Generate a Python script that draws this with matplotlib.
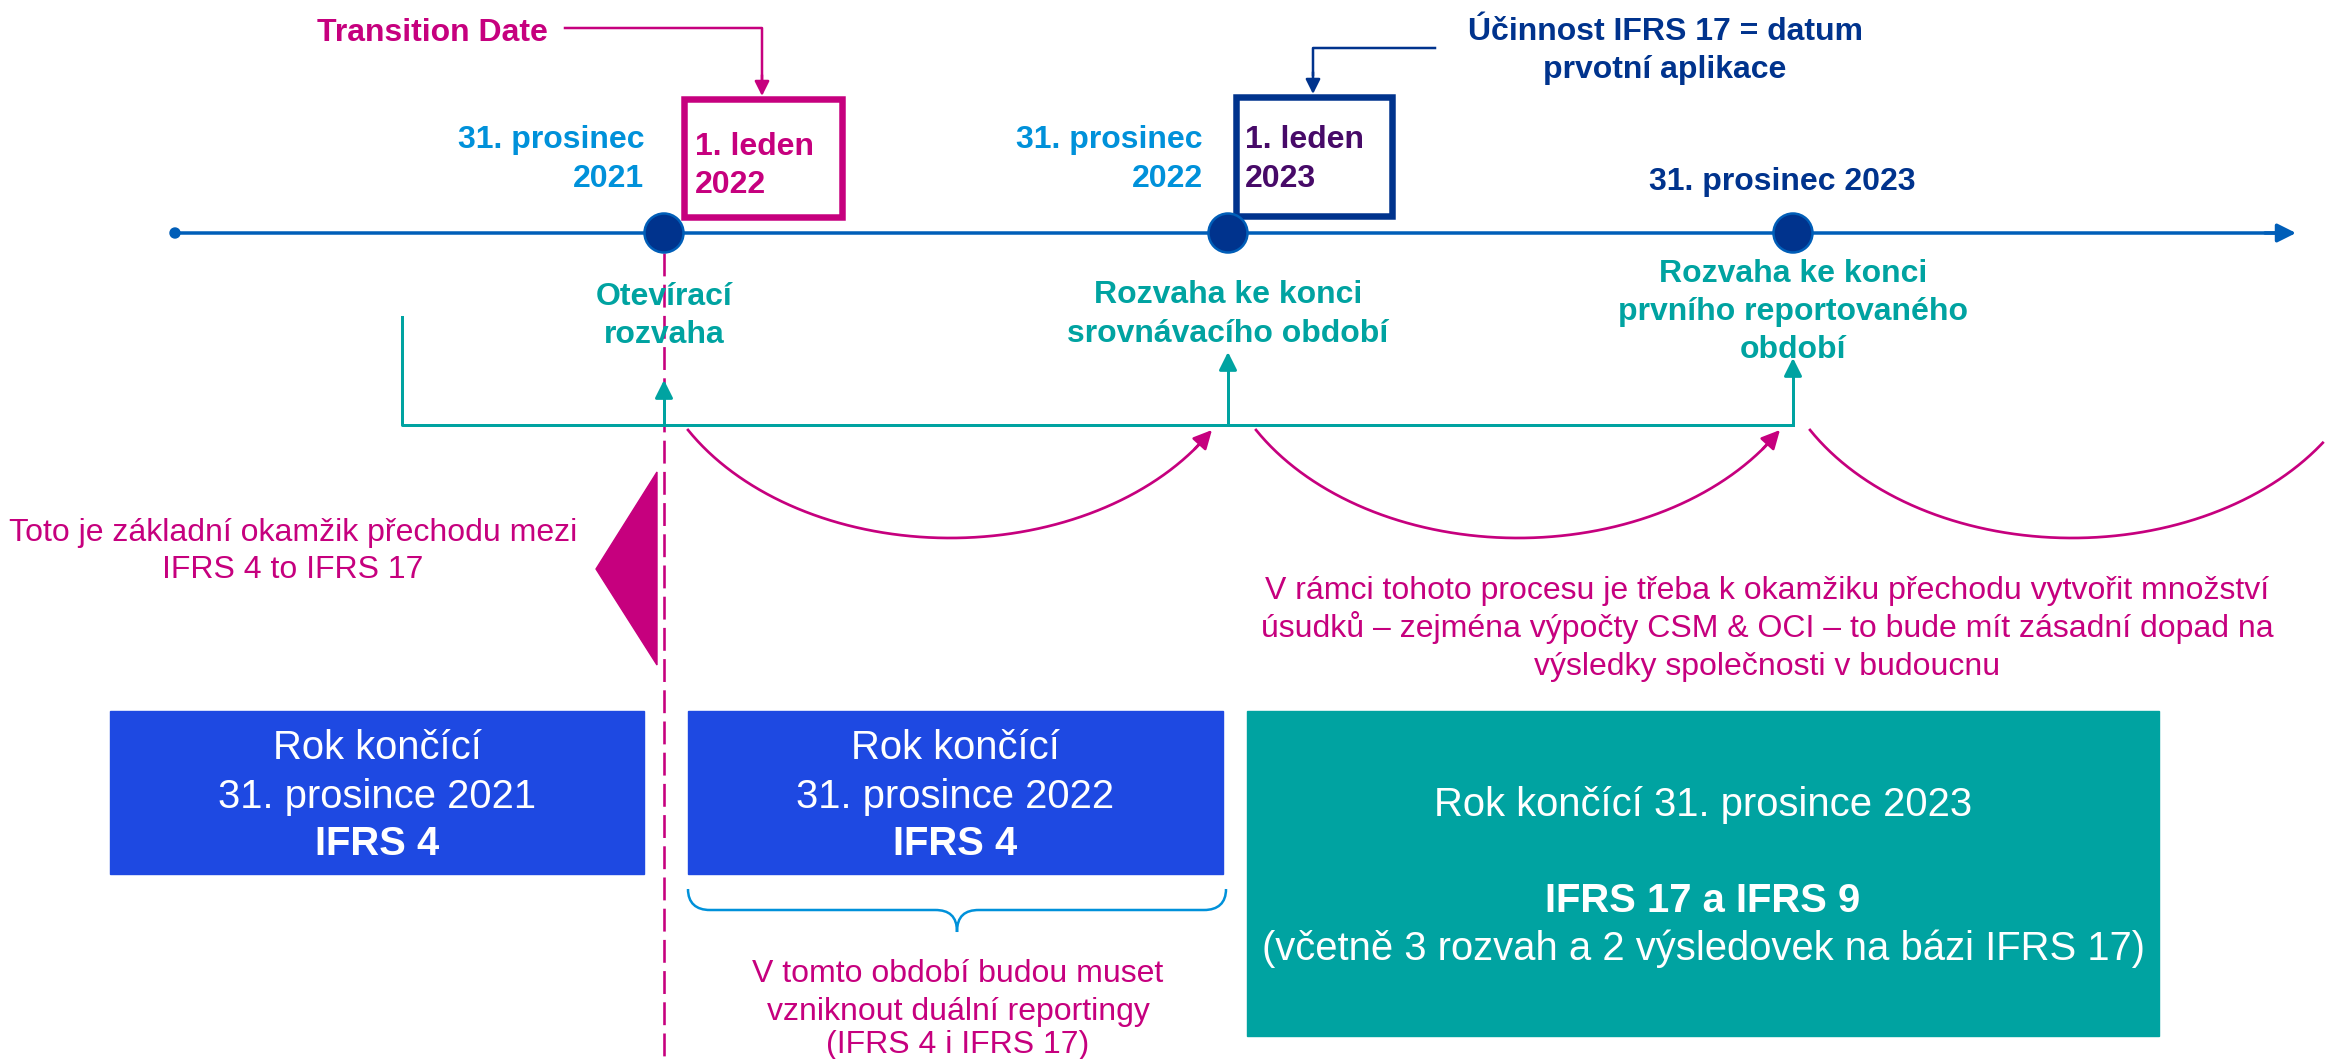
import matplotlib
matplotlib.use('Agg')
import matplotlib.pyplot as plt
from matplotlib.patches import Rectangle, Circle, Polygon, PathPatch
from matplotlib.path import Path
import numpy as np

plt.rcParams['font.family'] = ['Liberation Sans', 'DejaVu Sans']

# ---------------- content ----------------
date_labels = ['31. prosinec\n2021', '31. prosinec\n2022', '31. prosinec 2023']
milestone_labels = ['Otevírací\nrozvaha',
                    'Rozvaha ke konci\nsrovnávacího období',
                    'Rozvaha ke konci\nprvního reportovaného\nobdobí']
key_dates = ['1. leden\n2022', '1. leden\n2023']
callouts = ['Transition Date', 'Účinnost IFRS 17 = datum\nprvotní aplikace']
period_titles = ['Rok končící\n31. prosince 2021', 'Rok končící\n31. prosince 2022',
                 'Rok končící 31. prosince 2023']
period_standards = ['IFRS 4', 'IFRS 4', 'IFRS 17 a IFRS 9']
period_note = '(včetně 3 rozvah a 2 výsledovek na bázi IFRS 17)'
transition_note = 'Toto je základní okamžik přechodu mezi\nIFRS 4 to IFRS 17'
judgement_note = ('V rámci tohoto procesu je třeba k okamžiku přechodu vytvořit množství\n'
                  'úsudků – zejména výpočty CSM & OCI – to bude mít zásadní dopad na\n'
                  'výsledky společnosti v budoucnu')
dual_note = 'V tomto období budou muset\nvzniknout duální reportingy\n(IFRS 4 i IFRS 17)'

# ---------------- style ----------------
NAVY = '#00338D'
MBLUE = '#005EB8'
LBLUE = '#0091DA'
PURPLE = '#470A68'
TEAL = '#00A3A1'
MAGENTA = '#C6007E'
COBALT = '#1E49E2'
FS = 23.0      # ~32 px
FSB = 28.8     # ~40 px

W, H = 2325, 1059
fig = plt.figure(figsize=(W / 100, H / 100), dpi=100)
ax = fig.add_axes([0, 0, 1, 1])
ax.set_xlim(0, W)
ax.set_ylim(H, 0)
ax.axis('off')

def px(v):
    return v * 0.72

def lines_at(x, baselines, text, size, color, weight='normal', ha='center', z=5):
    for yb, line in zip(baselines, text.split('\n')):
        ax.text(x, yb, line, fontsize=size, color=color, fontweight=weight,
                ha=ha, va='baseline', zorder=z)

def arrow(p0, p1, color, lw, ms=20):
    ax.annotate('', xy=p1, xytext=p0,
                arrowprops=dict(arrowstyle='-|>', color=color, lw=px(lw),
                                mutation_scale=ms, shrinkA=0, shrinkB=0))

# ---------------- layout ----------------
TL_Y = 233
milestone_x = [664, 1228, 1793]

# timeline
ax.plot([175, 2280], [TL_Y, TL_Y], color=MBLUE, lw=px(3.5), zorder=2, solid_capstyle='butt')
arrow((2265, TL_Y), (2296, TL_Y), MBLUE, 3.5, ms=28)
ax.add_patch(Circle((175, TL_Y), 5, color=MBLUE, zorder=3))

# dashed transition line
ax.plot([664, 664], [253, H], color=MAGENTA, lw=px(2.6), dashes=(8.8, 3.2), zorder=1)

# key-date boxes
ax.add_patch(Rectangle((684, 99), 158, 118, fill=False, ec=MAGENTA, lw=px(6.5), zorder=3))
ax.add_patch(Rectangle((1236, 97), 156, 119, fill=False, ec=NAVY, lw=px(6.5), zorder=3))
lines_at(695, [155, 193], key_dates[0], FS, MAGENTA, 'bold', ha='left')
lines_at(1245, [148, 187], key_dates[1], FS, PURPLE, 'bold', ha='left')

# milestone circles
for mx in milestone_x:
    ax.add_patch(Circle((mx, TL_Y), 19.5, fc=NAVY, ec=MBLUE, lw=px(2.5), zorder=4))

# date labels
lines_at(644, [148, 187], date_labels[0], FS, LBLUE, 'bold', ha='right')
lines_at(1203, [148, 187], date_labels[1], FS, LBLUE, 'bold', ha='right')
lines_at(1782, [190], date_labels[2], FS, NAVY, 'bold')

# callouts
lines_at(432, [41], callouts[0], FS, MAGENTA, 'bold')
ax.plot([565, 762, 762], [28, 28, 80], color=MAGENTA, lw=px(2.5), zorder=3)
arrow((762, 75), (762, 96), MAGENTA, 2.5, ms=22)
lines_at(1665, [40, 78], callouts[1], FS, NAVY, 'bold')
ax.plot([1435, 1313, 1313], [48, 48, 75], color=NAVY, lw=px(2.5), zorder=3)
arrow((1313, 72), (1313, 94), NAVY, 2.5, ms=22)

# milestone labels
lines_at(milestone_x[0], [305, 343], milestone_labels[0], FS, TEAL, 'bold')
lines_at(milestone_x[1], [303, 342], milestone_labels[1], FS, TEAL, 'bold')
lines_at(milestone_x[2], [282, 320, 358], milestone_labels[2], FS, TEAL, 'bold')

# teal bracket
ax.plot([402, 402, 1793], [317, 425, 425], color=TEAL, lw=px(3), zorder=2)
for mx, tip in zip(milestone_x, [380, 352, 358]):
    ax.plot([mx, mx], [425, tip + 10], color=TEAL, lw=px(3), zorder=2)
    arrow((mx, tip + 16), (mx, tip), TEAL, 3, ms=27)

# magenta arcs
a_ax, b_ax, cy = 302.5, 216.0, 322.0
for cx in [950, 1518, 2072]:
    t = np.radians(np.linspace(-60, 56, 200))
    ax.plot(cx + a_ax * np.sin(t), cy + b_ax * np.cos(t), color=MAGENTA, lw=px(2.7), zorder=2)
    t0, t1 = np.radians(54), np.radians(60)
    arrow((cx + a_ax * np.sin(t0), cy + b_ax * np.cos(t0)),
          (cx + a_ax * np.sin(t1), cy + b_ax * np.cos(t1)), MAGENTA, 2.7, ms=28)

# transition triangle + note
ax.add_patch(Polygon([(657, 472), (596, 569), (657, 665)], closed=True, color=MAGENTA, zorder=2))
lines_at(293, [541, 578], transition_note, FS, MAGENTA)

# judgement note
lines_at(1767, [599, 637, 675], judgement_note, FS, MAGENTA)

# period boxes
ax.add_patch(Rectangle((110, 711), 534, 163, color=COBALT, zorder=2))
ax.add_patch(Rectangle((688, 711), 535, 163, color=COBALT, zorder=2))
ax.add_patch(Rectangle((1247, 711), 912, 325, color=TEAL, zorder=2))
for cx0, i in [(377, 0), (955, 1)]:
    lines_at(cx0, [759, 808], period_titles[i], FSB, 'white')
    lines_at(cx0, [855], period_standards[i], FSB, 'white', 'bold')
lines_at(1703, [816], period_titles[2], FSB, 'white')
lines_at(1703, [912], period_standards[2], FSB, 'white', 'bold')
lines_at(1703, [960], period_note, FSB, 'white')

# brace
verts = [(688, 889), (688, 903), (696, 910), (710, 910),
         (935, 910),
         (949, 910), (957, 916), (957, 932),
         (957, 916), (965, 910), (979, 910),
         (1204, 910),
         (1218, 910), (1226, 903), (1226, 889)]
codes = [Path.MOVETO, Path.CURVE4, Path.CURVE4, Path.CURVE4,
         Path.LINETO,
         Path.CURVE4, Path.CURVE4, Path.CURVE4,
         Path.CURVE4, Path.CURVE4, Path.CURVE4,
         Path.LINETO,
         Path.CURVE4, Path.CURVE4, Path.CURVE4]
ax.add_patch(PathPatch(Path(verts, codes), fill=False, ec=LBLUE, lw=px(2.5), zorder=2))
lines_at(958, [982, 1020, 1053], dual_note, FS, MAGENTA)

fig.savefig('out.png', dpi=100)
